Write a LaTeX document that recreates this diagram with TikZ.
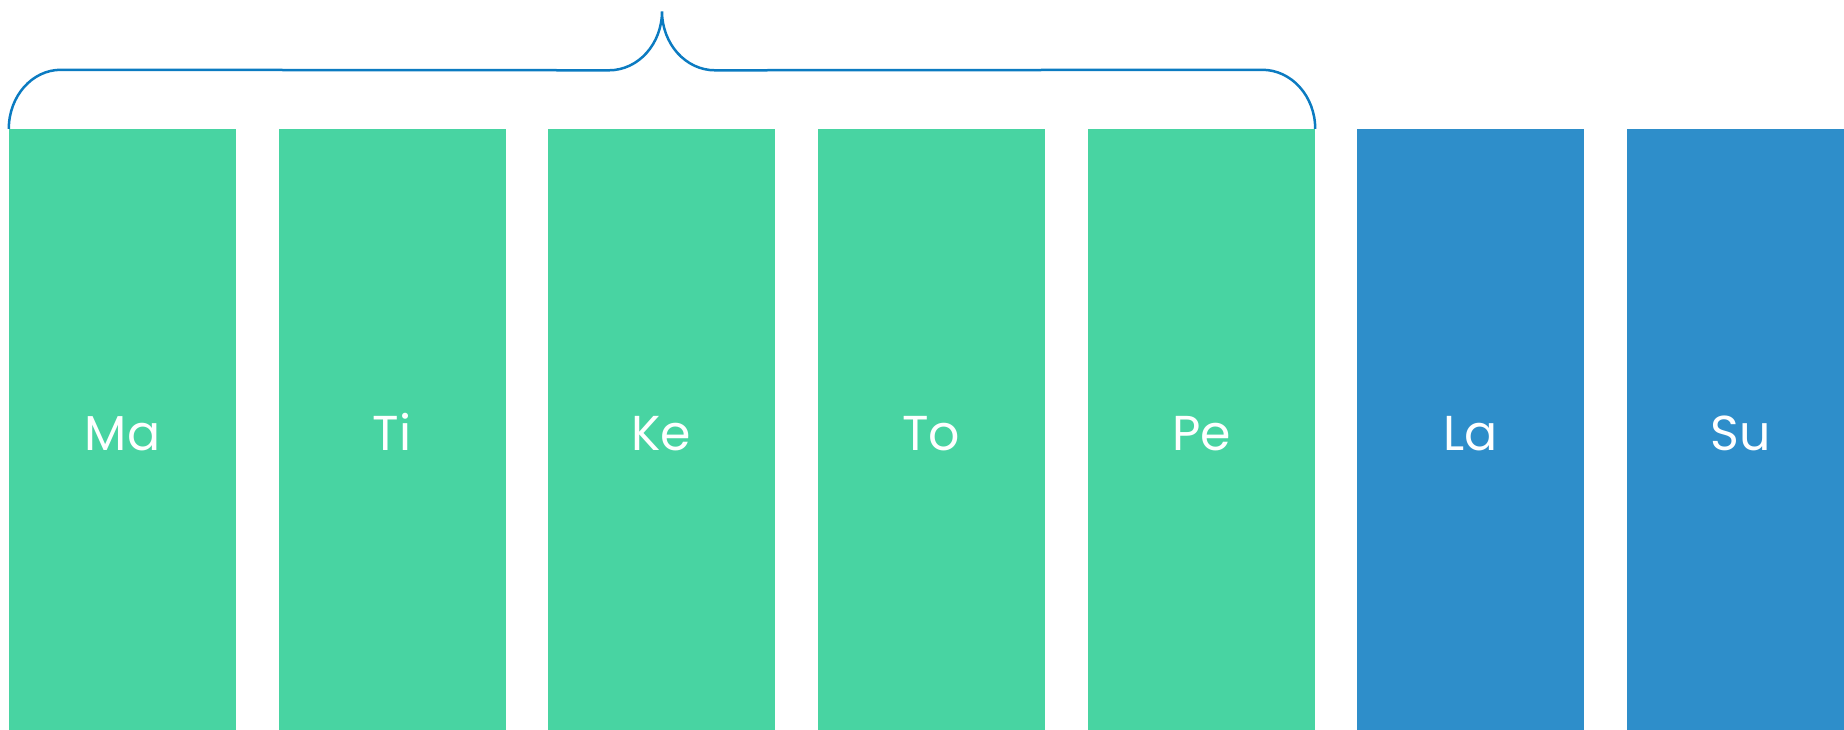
\documentclass[tikz,border=0pt]{standalone}
\usepackage{fontspec}
\setmainfont{Poppins}
\usepackage{tikz}
\usetikzlibrary{calc}

\definecolor{daygreen}{RGB}{72,212,162}
\definecolor{dayblue}{RGB}{46,142,202}
\definecolor{bracecol}{RGB}{11,123,193}

\begin{document}
\begin{tikzpicture}[x=1pt,y=1pt,
    day/.style={rectangle,minimum width=227pt,minimum height=601pt,inner sep=0pt,
      text height=42pt,text depth=0pt,
      text=white,font=\fontsize{49}{49}\selectfont},
    work/.style={day,fill=daygreen},
    rest/.style={day,fill=dayblue},
    brace/.style={draw=bracecol,line width=2.5pt}]
      \useasboundingbox (0,0) rectangle (1844,-730);
      \clip (0,0) rectangle (1844,-730);

      \node[work] (Ma) at (122.5,-429.5) {Ma};
      \node[work] (Ti) at (392,-429.5) {Ti};
      \node[work] (Ke) at (661.5,-429.5) {Ke};
      \node[work] (To) at (931,-429.5) {To};
      \node[work] (Pe) at (1201.5,-429.5) {Pe};
      \node[rest] (La) at (1470.5,-429.5) {La};
      \node[rest] (Su) at (1740.5,-429.5) {Su};

      \coordinate (tip) at ($(Ma.north west)!0.5!(Pe.north east)+(0,117.5)$);

      \draw[brace] (Ma.north west) arc[start angle=180,end angle=90,x radius=52,y radius=59]
        -- ($(tip)+(-53,-59)$) arc[start angle=270,end angle=360,x radius=53,y radius=59]
        arc[start angle=180,end angle=270,x radius=53,y radius=59]
        -- ($(Pe.north east)+(-53,59)$) arc[start angle=90,end angle=0,x radius=53,y radius=59];
  \end{tikzpicture}
\end{document}
